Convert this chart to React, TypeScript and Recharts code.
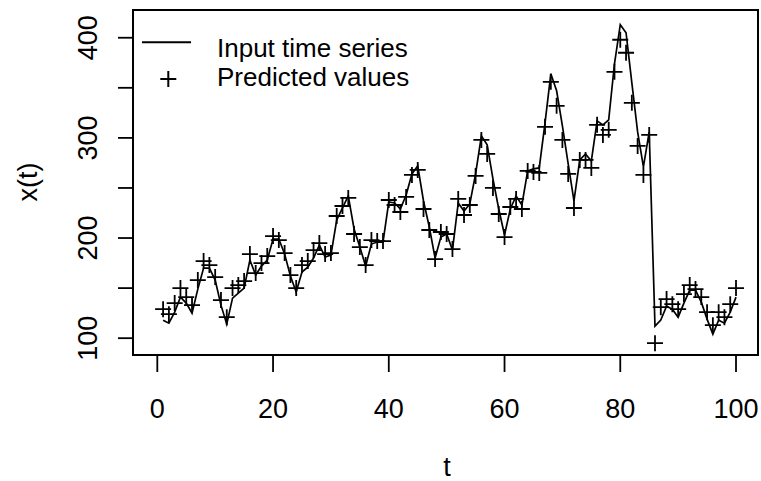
import React from "react";
import { ComposedChart, Line, Scatter, XAxis, YAxis, ReferenceArea } from "recharts";

// observed series x(t), t = 1..100
const inputSeries = [
  118, 115, 126, 141, 135, 125, 149, 170, 170, 158, 133, 114, 140,
  145, 150, 178, 163, 172, 178, 199, 199, 184, 162, 146, 166,
  171, 180, 193, 181, 183, 218, 230, 242, 209, 191, 172, 194,
  196, 196, 236, 235, 229, 243, 264, 272, 237, 211, 180, 201,
  204, 188, 235, 227, 234, 264, 302, 293, 259, 229, 203, 229,
  242, 233, 267, 269, 270, 315, 364, 347, 312, 274, 237, 278,
  284, 277, 317, 313, 318, 374, 413, 405, 355, 306, 271, 306,
  112, 118, 132, 129, 121, 135, 148, 148, 136, 119, 104, 118, 115, 126, 141,
];

// model output
const predicted = [
  129, 124, 135, 150, 141, 133, 158, 177, 173, 161, 138, 121, 150,
  153, 157, 184, 165, 175, 182, 202, 198, 185, 163, 150, 173,
  177, 188, 195, 184, 185, 222, 232, 240, 204, 191, 173, 198,
  197, 197, 238, 233, 226, 241, 263, 268, 229, 208, 179, 206,
  204, 189, 239, 223, 233, 262, 298, 284, 250, 224, 201, 231,
  239, 229, 267, 266, 265, 311, 356, 332, 298, 264, 230, 278,
  278, 270, 313, 303, 308, 366, 398, 385, 335, 292, 263, 303,
  95, 131, 139, 134, 129, 144, 153, 149, 141, 126, 113, 126, 121, 134, 150,
];

const xTicks = [0, 20, 40, 60, 80, 100];
const yTicks = [100, 150, 200, 250, 300, 350, 400];

const data = inputSeries.map((v, i) => ({ t: i + 1, x: v, pred: predicted[i] }));

const FONT = "'Liberation Sans', Arial, Helvetica, sans-serif";

const XTick = ({ x, y, payload }: any) => (
  <text x={x} y={y + 45.5} textAnchor="middle" fontSize={27} fontFamily={FONT} fill="#000">
    {payload.value}
  </text>
);

// R drops the labels at 150, 250, 350 (they would overlap) but keeps the ticks
const YTick = ({ x, y, payload }: any) => {
  if (payload.value % 100 !== 0) return <g />;
  const tx = x - 21;
  return (
    <text x={tx} y={y} transform={`rotate(-90 ${tx} ${y})`} textAnchor="middle" fontSize={27} fontFamily={FONT} fill="#000">
      {payload.value}
    </text>
  );
};

const Plus = ({ cx, cy }: any) => (
  <path d={`M${cx - 8},${cy}H${cx + 8}M${cx},${cy - 8}V${cy + 8}`} stroke="#000" strokeWidth={1.8} fill="none" />
);

export default function App() {
  return (
    <div style={{ position: "absolute", left: 0, top: 0, width: 761, height: 481, background: "#fff" }}>
      <ComposedChart width={761} height={481} data={data} margin={{ top: 10, right: 3, bottom: 0, left: 0 }}>
        <XAxis
          type="number"
          dataKey="t"
          domain={[-4.2, 103.8]}
          ticks={xTicks}
          height={126}
          tickSize={17}
          tickMargin={0}
          axisLine={false}
          tickLine={{ stroke: "#000", strokeWidth: 1.8 }}
          tick={<XTick />}
          allowDataOverflow
        />
        <YAxis
          type="number"
          domain={[83.2, 427.7]}
          ticks={yTicks}
          width={133}
          tickSize={15}
          tickMargin={0}
          axisLine={false}
          tickLine={{ stroke: "#000", strokeWidth: 1.8 }}
          tick={<YTick />}
          allowDataOverflow
        />
        <ReferenceArea x1={-4.2} x2={103.8} y1={83.2} y2={427.7} fill="none" stroke="#000" strokeWidth={2} />
        <Line dataKey="x" stroke="#000" strokeWidth={1.7} dot={false} isAnimationActive={false} />
        <Scatter dataKey="pred" shape={<Plus />} isAnimationActive={false} />
      </ComposedChart>
      <svg width={761} height={481} style={{ position: "absolute", left: 0, top: 0, pointerEvents: "none" }}>
        <g fontFamily={FONT} fill="#000">
          <text x={37} y={182} transform="rotate(-90 37 182)" textAnchor="middle" fontSize={27}>x(t)</text>
          <text x={447} y={476} textAnchor="middle" fontSize={27}>t</text>
          <line x1={142} y1={42.3} x2={191} y2={42.3} stroke="#000" strokeWidth={2} />
          <path d="M160.3,79H176.3M168.3,71V87" stroke="#000" strokeWidth={2} />
          <text x={217} y={57.3} fontSize={26}>Input time series</text>
          <text x={217} y={86.3} fontSize={26}>Predicted values</text>
        </g>
      </svg>
    </div>
  );
}
